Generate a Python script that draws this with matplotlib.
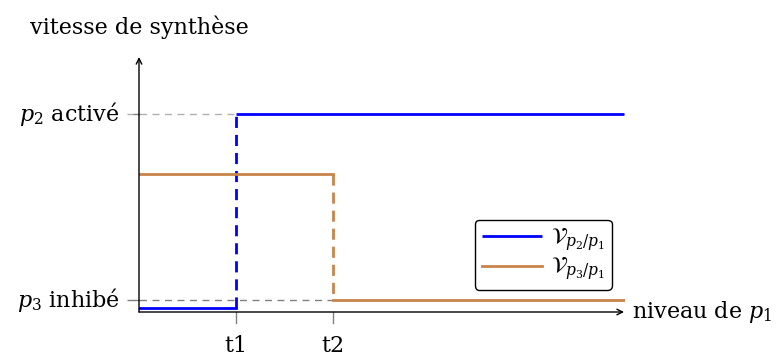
import matplotlib.pyplot as plt

plt.rcParams['font.family'] = ['DejaVu Serif']
plt.rcParams['mathtext.fontset'] = 'dejavuserif'

# step positions on the p1 axis
x_levels = [0, 1, 2, 5]
tick_labels = ["t1", "t2"]
# synthesis speeds
y_ticks = [0.6, 10]
y_tick_labels = [r"$p_3$ inhibé", r"$p_2$ activé"]
v_p2_low, v_p2_high = 0.2, 10
v_p3_high, v_p3_low = 7, 0.6

blue = "#0000ff"
orange = "#c8844a"

fig = plt.figure(figsize=(7.79, 3.56), dpi=100)
ax = fig.add_axes([139 / 779, 44 / 356, 486 / 779, 255 / 356])
ax.set_xlim(0, 5.01)
ax.set_ylim(0, 12.9)
for s in ax.spines.values():
    s.set_visible(False)
ax.set_xticks([])
ax.set_yticks([])

t1, t2, xend = x_levels[1], x_levels[2], x_levels[3]

# helper lines
ax.plot([-0.12, t1], [y_ticks[1]] * 2, color="#b0b0b0", lw=1, ls=(0, (5, 4)), clip_on=False)
ax.plot([-0.12, t2], [y_ticks[0]] * 2, color="#808080", lw=1, ls=(0, (5, 4)), clip_on=False)
for yv in y_ticks:
    ax.plot([-0.05, 0], [yv, yv], color="#808080", lw=1, clip_on=False)
for xv in [t1, t2]:
    ax.plot([xv, xv], [0, -0.55], color="#808080", lw=1, clip_on=False)

# curves
dash = (0, (4, 2.5))
ax.plot([0, t1], [v_p2_low] * 2, color=blue, lw=2)
ax.plot([t1, t1], [v_p2_low, v_p2_high], color=blue, lw=2, ls=dash)
l1, = ax.plot([t1, xend], [v_p2_high] * 2, color=blue, lw=2, solid_capstyle="butt")
l2, = ax.plot([0, t2], [v_p3_high] * 2, color=orange, lw=2)
ax.plot([t2, t2], [v_p3_high, v_p3_low], color=orange, lw=2, ls=dash)
ax.plot([t2, xend], [v_p3_low] * 2, color=orange, lw=2)

# axes arrows
ax.annotate("", xy=(5.0, 0), xytext=(0, 0), xycoords="data",
            arrowprops=dict(arrowstyle="->", lw=1, color="black", shrinkA=0, shrinkB=0),
            annotation_clip=False)
ax.annotate("", xy=(0, 12.9), xytext=(0, 0), xycoords="data",
            arrowprops=dict(arrowstyle="->", lw=1, color="black", shrinkA=0, shrinkB=0),
            annotation_clip=False)

fs = 16
for yv, lab in zip(y_ticks, y_tick_labels):
    ax.text(-0.2, yv, lab, ha="right", va="center", fontsize=fs)
for xv, lab in zip([t1, t2], tick_labels):
    ax.text(xv, -2.0, lab, ha="center", va="baseline", fontsize=fs)
ax.text(5.08, 0, r"niveau de $p_1$", ha="left", va="center", fontsize=fs)
fig.text(30 / 779, 1 - 27 / 356, "vitesse de synthèse", ha="left", va="center", fontsize=fs)

leg = ax.legend([l1, l2], [r"$\mathcal{V}_{p_2/p_1}$", r"$\mathcal{V}_{p_3/p_1}$"],
                loc="upper left", bbox_to_anchor=((475 - 139) / 486, 1 - (220 - 57) / 255),
                borderaxespad=0, fontsize=fs, fancybox=True, framealpha=1, edgecolor="black",
                handlelength=2.7, labelspacing=0.1, borderpad=0.3, handletextpad=0.4)
leg.get_frame().set_linewidth(1)

fig.savefig("out.png", dpi=100)
